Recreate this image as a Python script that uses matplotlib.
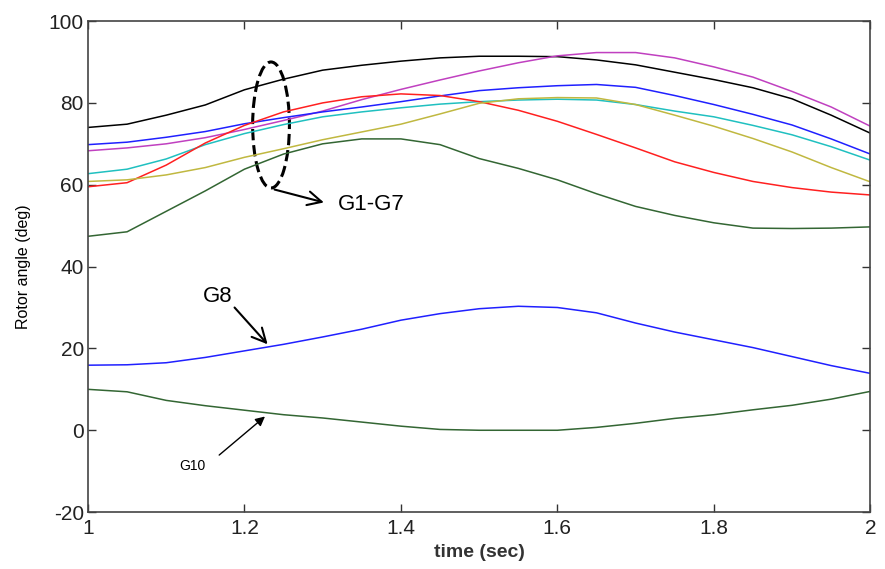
import numpy as np
import matplotlib
matplotlib.use("Agg")
import matplotlib.pyplot as plt
from matplotlib.patches import Ellipse

plt.rcParams['font.family'] = ['Liberation Sans', 'DejaVu Sans']
plt.rcParams['axes.unicode_minus'] = False

# time samples (sec)
t = np.linspace(1.0, 2.0, 21)

# rotor angles (deg)
g_black = [74, 74.8, 77, 79.5, 83.2, 85.8, 88, 89.2, 90.2, 91, 91.4, 91.4, 91.3,
           90.5, 89.3, 87.5, 85.7, 83.7, 81, 77, 72.6]
g_magenta = [68.3, 69, 70, 71.5, 73.5, 75.7, 78, 80.8, 83.3, 85.6, 87.8, 89.8, 91.5,
             92.3, 92.3, 91, 88.8, 86.3, 82.8, 79, 74.3]
g_blue = [69.8, 70.4, 71.6, 73, 74.9, 76.4, 77.8, 79, 80.3, 81.7, 83, 83.7, 84.2,
          84.5, 83.8, 81.8, 79.6, 77.2, 74.6, 71.2, 67.5]
g_cyan = [62.7, 63.8, 66.3, 69.8, 72.5, 74.7, 76.6, 77.8, 78.8, 79.7, 80.3, 80.7, 80.9,
          80.7, 79.6, 78, 76.6, 74.5, 72.2, 69.3, 66]
g_red = [59.5, 60.5, 64.8, 70.2, 74.5, 77.8, 80, 81.5, 82.2, 81.8, 80.3, 78.2, 75.5,
         72.3, 69, 65.6, 63, 60.8, 59.3, 58.2, 57.5]
g_olive = [60.8, 61.2, 62.4, 64.2, 66.7, 68.8, 71, 72.9, 74.8, 77.3, 79.9, 81, 81.3,
           81.2, 79.6, 77, 74.3, 71.3, 68, 64.2, 60.7]
g_green = [47.4, 48.5, 53.5, 58.5, 63.8, 67.5, 70, 71.2, 71.2, 69.8, 66.4, 64, 61.2,
           57.8, 54.7, 52.5, 50.7, 49.4, 49.3, 49.4, 49.7]
g8 = [15.9, 16, 16.5, 17.8, 19.4, 21, 22.8, 24.7, 26.9, 28.5, 29.7, 30.3, 30,
      28.7, 26.2, 24, 22.1, 20.2, 18, 15.8, 13.9]
g10 = [10, 9.4, 7.3, 6, 4.9, 3.8, 3, 2, 1, 0.2, 0, 0, 0,
       0.7, 1.7, 2.9, 3.8, 5, 6.1, 7.6, 9.5]

series = [
    (g_black, 'black'),
    (g_magenta, '#c040c0'),
    (g_blue, '#2020ff'),
    (g_cyan, '#20c0c0'),
    (g_red, '#ff2020'),
    (g_olive, '#c0b840'),
    (g_green, '#336633'),
    (g8, '#2020ff'),
    (g10, '#336633'),
]

fig = plt.figure(figsize=(8.85, 5.69), dpi=100)
ax = fig.add_axes([0.0994, 0.1, 0.884, 0.863])

for vals, c in series:
    ax.plot(t, vals, color=c, lw=1.1)

ax.set_xlim(1, 2)
ax.set_ylim(-20, 100)
ax.set_xticks([1, 1.2, 1.4, 1.6, 1.8, 2])
ax.set_xticklabels(['1', '1.2', '1.4', '1.6', '1.8', '2'])
ax.set_yticks([-20, 0, 20, 40, 60, 80, 100])
ax.tick_params(direction='in', top=True, right=True, labelsize=15, length=6, width=1,
               colors='#333333')
ax.tick_params(axis='x', pad=5)
ax.tick_params(axis='y', pad=3)
ax.tick_params(labelcolor='#222222')
for s in ax.spines.values():
    s.set_linewidth(1.2)
    s.set_color('#444444')

ax.set_xlabel('time (sec)', fontsize=14, fontweight='bold', color='#333333', labelpad=4)
ax.set_ylabel('Rotor angle (deg)', fontsize=11.5, labelpad=13)

# dashed ellipse around G1-G7
ell = Ellipse((1.234, 74.6), 0.047, 30.8, fill=False, ls='--', lw=2.2, ec='black')
ax.add_patch(ell)
ax.annotate('', xy=(1.305, 55.5), xytext=(1.235, 59.0),
            arrowprops=dict(arrowstyle='->', lw=1.5, color='black', mutation_scale=25))
ax.text(1.32, 55.2, 'G1-G7', fontsize=16, va='center', ha='left')

ax.text(1.147, 32.8, 'G8', fontsize=16, va='center', ha='left')
ax.annotate('', xy=(1.232, 20.5), xytext=(1.185, 30.5),
            arrowprops=dict(arrowstyle='->', lw=1.5, color='black', mutation_scale=25))

ax.text(1.117, -8.8, 'G10', fontsize=10, va='center', ha='left')
ax.annotate('', xy=(1.229, 3.8), xytext=(1.165, -6.5),
            arrowprops=dict(arrowstyle='-|>', lw=1.0, color='black', mutation_scale=14))

fig.savefig('out.png', dpi=100)
